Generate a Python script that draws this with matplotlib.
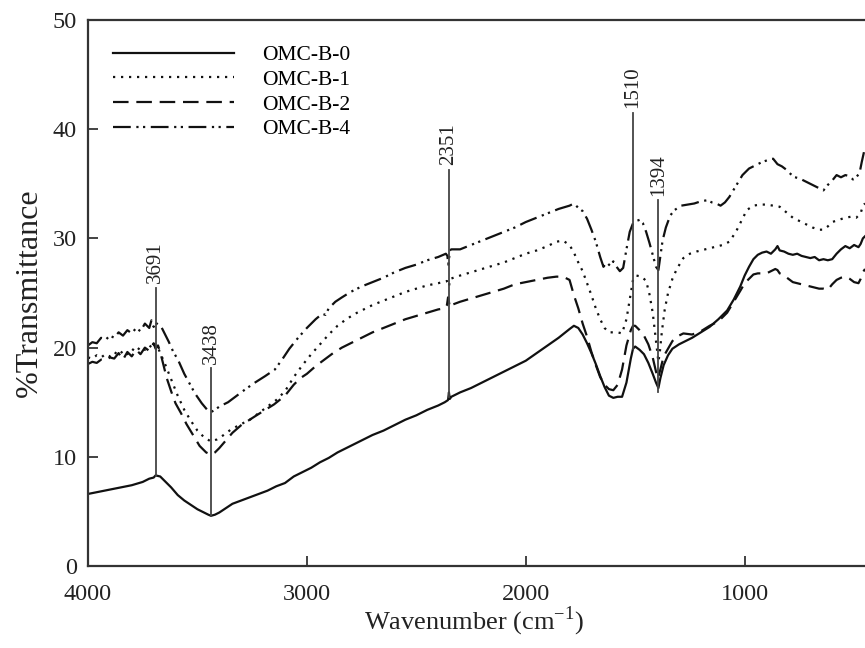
import matplotlib
matplotlib.use("Agg")
import matplotlib.pyplot as plt

# ---------------- data ----------------
wn_b0 = [4000, 3950, 3900, 3850, 3800, 3750, 3720, 3700, 3691, 3670, 3650, 3620, 3590, 3560, 3530, 3500,
         3470, 3450, 3438, 3420, 3400, 3370, 3340, 3300, 3260, 3220, 3180, 3140, 3100, 3060, 3020, 2980,
         2940, 2900, 2860, 2820, 2780, 2740, 2700, 2650, 2600, 2550, 2500, 2450, 2400, 2370, 2355, 2351,
         2347, 2340, 2300, 2250, 2200, 2150, 2100, 2050, 2000, 1950, 1900, 1850, 1800, 1780, 1760, 1740,
         1720, 1700, 1680, 1660, 1640, 1620, 1600, 1580, 1560, 1540, 1520, 1510, 1500, 1480, 1460, 1440,
         1420, 1405, 1394, 1385, 1370, 1350, 1330, 1300, 1270, 1240, 1200, 1160, 1120, 1080, 1050, 1020,
         1000, 980, 960, 940, 920, 900, 880, 860, 850, 840, 820, 800, 780, 760, 740, 720, 700, 680, 660,
         640, 620, 600, 580, 560, 540, 520, 500, 480, 470, 460, 450]
t_b0 = [6.6, 6.8, 7.0, 7.2, 7.4, 7.7, 8.0, 8.1, 8.3, 8.2, 7.8, 7.2, 6.5, 6.0, 5.6, 5.2,
        4.9, 4.7, 4.6, 4.7, 4.9, 5.3, 5.7, 6.0, 6.3, 6.6, 6.9, 7.3, 7.6, 8.2, 8.6, 9.0,
        9.5, 9.9, 10.4, 10.8, 11.2, 11.6, 12.0, 12.4, 12.9, 13.4, 13.8, 14.3, 14.7, 15.0, 15.2, 15.9,
        15.3, 15.5, 15.9, 16.3, 16.8, 17.3, 17.8, 18.3, 18.8, 19.5, 20.2, 20.9, 21.7, 22.0, 21.8, 21.2,
        20.4, 19.5, 18.5, 17.4, 16.4, 15.6, 15.4, 15.5, 15.5, 16.8, 19.0, 19.9, 20.1, 19.8, 19.4, 18.6,
        17.6, 16.8, 16.3, 17.2, 18.4, 19.3, 19.9, 20.3, 20.6, 20.9, 21.4, 21.9, 22.6, 23.4, 24.4, 25.6,
        26.6, 27.4, 28.1, 28.5, 28.7, 28.8, 28.6, 29.0, 29.3, 28.9, 28.8, 28.6, 28.5, 28.6, 28.4, 28.3, 28.2, 28.3, 28.0,
        28.1, 28.0, 28.1, 28.6, 29.0, 29.3, 29.1, 29.4, 29.2, 29.5, 30.0, 30.2]

wn_b1 = [4000, 3980, 3960, 3940, 3920, 3900, 3880, 3860, 3840, 3820, 3800, 3780, 3760, 3740, 3720, 3700,
         3691, 3680, 3670, 3650, 3630, 3610, 3590, 3560, 3530, 3500, 3470, 3438, 3410, 3380, 3347, 3300,
         3260, 3220, 3180, 3140, 3100, 3060, 3020, 2980, 2940, 2900, 2860, 2820, 2780, 2740, 2700, 2650,
         2600, 2550, 2500, 2450, 2400, 2360, 2351, 2345, 2300, 2250, 2200, 2150, 2100, 2050, 2000, 1950,
         1900, 1860, 1830, 1800, 1780, 1760, 1740, 1720, 1700, 1680, 1660, 1640, 1620, 1600, 1580, 1560,
         1540, 1525, 1510, 1495, 1470, 1450, 1435, 1420, 1410, 1400, 1394, 1388, 1378, 1365, 1350, 1330,
         1310, 1280, 1250, 1220, 1180, 1140, 1100, 1070, 1040, 1010, 990, 960, 930, 900, 870, 840, 810,
         780, 750, 720, 690, 660, 640, 620, 600, 570, 540, 510, 490, 470, 460, 450]
t_b1 = [19.1, 19.0, 19.3, 19.1, 19.4, 19.2, 19.6, 19.3, 19.7, 19.4, 19.9, 19.6, 20.1, 19.8, 20.2, 19.9,
        20.3, 20.0, 19.5, 18.6, 17.6, 16.6, 15.6, 14.3, 13.3, 12.4, 11.8, 11.4, 11.6, 12.0, 12.5, 13.0,
        13.4, 14.0, 14.6, 15.2, 16.0, 17.3, 18.4, 19.4, 20.3, 21.2, 22.0, 22.6, 23.1, 23.5, 23.9, 24.3,
        24.7, 25.1, 25.4, 25.7, 25.9, 26.1, 25.6, 26.3, 26.6, 26.9, 27.2, 27.5, 27.8, 28.2, 28.6, 28.9,
        29.3, 29.7, 29.8, 29.4, 28.7, 27.8, 27.0, 25.9, 24.8, 23.6, 22.6, 21.8, 21.4, 21.4, 21.4, 21.3,
        22.6, 24.4, 26.2, 26.6, 26.5, 26.1, 24.9, 23.2, 21.5, 19.8, 18.7, 19.5, 21.5, 23.5, 25.0, 26.3,
        27.2, 28.2, 28.6, 28.8, 29.0, 29.2, 29.4, 29.7, 30.6, 31.8, 32.6, 33.0, 33.1, 33.1, 33.0, 32.9, 32.4,
        31.9, 31.6, 31.3, 31.0, 30.8, 30.8, 31.1, 31.5, 31.7, 31.9, 32.0, 31.9, 32.3, 33.0, 33.2]

wn_b2 = [4000, 3980, 3960, 3940, 3920, 3900, 3880, 3860, 3840, 3820, 3800, 3780, 3760, 3740, 3720, 3700,
         3691, 3680, 3670, 3660, 3640, 3620, 3600, 3575, 3550, 3520, 3490, 3460, 3438, 3420, 3400, 3370,
         3340, 3300, 3269, 3230, 3190, 3150, 3100, 3060, 3030, 3000, 2960, 2920, 2880, 2840, 2800, 2750,
         2700, 2650, 2600, 2550, 2500, 2450, 2400, 2370, 2360, 2355, 2351, 2347, 2340, 2300, 2250, 2200,
         2150, 2100, 2050, 2000, 1950, 1900, 1860, 1830, 1800, 1780, 1760, 1740, 1720, 1700, 1680, 1660,
         1640, 1620, 1600, 1580, 1560, 1540, 1520, 1510, 1500, 1480, 1460, 1440, 1420, 1405, 1396, 1385,
         1370, 1350, 1330, 1310, 1280, 1240, 1200, 1160, 1120, 1080, 1050, 1020, 1000, 980, 960, 940, 900,
         880, 860, 850, 840, 820, 800, 780, 760, 740, 720, 700, 680, 660, 640, 620, 600, 580, 560, 540,
         520, 500, 480, 470, 460, 450]
t_b2 = [18.5, 18.7, 18.6, 18.9, 18.8, 19.1, 19.0, 19.5, 18.9, 19.6, 19.2, 19.8, 19.4, 20.0, 19.7, 20.4,
        19.9, 20.2, 19.6, 18.8, 17.2, 16.0, 14.9, 14.0, 13.0, 12.0, 11.0, 10.4, 10.2, 10.4, 10.8, 11.5,
        12.2, 12.9, 13.3, 13.8, 14.3, 14.8, 15.6, 16.6, 17.2, 17.6, 18.3, 18.9, 19.5, 20.0, 20.4, 20.9,
        21.4, 21.8, 22.2, 22.6, 22.9, 23.2, 23.5, 23.6, 23.9, 24.6, 24.2, 23.7, 23.9, 24.2, 24.5, 24.8,
        25.1, 25.4, 25.8, 26.0, 26.2, 26.4, 26.5, 26.5, 26.2, 24.8, 23.6, 22.2, 21.0, 19.6, 18.4, 17.3,
        16.6, 16.2, 16.1, 16.6, 18.0, 20.2, 21.6, 22.0, 22.0, 21.6, 21.1, 20.3, 19.1, 17.8, 17.2, 18.0,
        19.2, 19.9, 20.6, 21.0, 21.3, 21.2, 21.5, 22.0, 22.4, 23.2, 24.2, 25.2, 25.9, 26.3, 26.7, 26.8, 26.8,
        27.0, 27.2, 27.1, 26.8, 26.6, 26.3, 26.0, 25.9, 25.8, 25.7, 25.6, 25.5, 25.4, 25.4, 25.3, 25.8, 26.2, 26.4, 26.5,
        26.3, 26.0, 25.9, 26.3, 26.9, 27.2]

wn_b4 = [4000, 3980, 3960, 3940, 3920, 3900, 3880, 3860, 3840, 3820, 3800, 3780, 3760, 3740, 3720, 3710,
         3700, 3691, 3680, 3665, 3650, 3630, 3610, 3589, 3560, 3530, 3511, 3480, 3455, 3438, 3420, 3400,
         3360, 3320, 3280, 3237, 3190, 3146, 3110, 3080, 3040, 3000, 2960, 2930, 2915, 2900, 2870, 2840,
         2800, 2750, 2700, 2650, 2600, 2550, 2500, 2450, 2400, 2365, 2358, 2354, 2351, 2347, 2340, 2300,
         2250, 2200, 2150, 2100, 2050, 2000, 1950, 1900, 1850, 1800, 1780, 1770, 1760, 1740, 1720, 1700,
         1680, 1660, 1645, 1630, 1615, 1600, 1585, 1570, 1555, 1540, 1525, 1510, 1495, 1480, 1465, 1450,
         1435, 1420, 1405, 1394, 1385, 1375, 1360, 1340, 1320, 1290, 1260, 1230, 1200, 1170, 1150, 1130,
         1110, 1090, 1070, 1040, 1010, 980, 950, 920, 890, 870, 850, 830, 810, 790, 770, 750, 720, 690,
         660, 640, 620, 600, 580, 560, 540, 520, 505, 490, 475, 465, 455, 450]
t_b4 = [20.2, 20.5, 20.4, 20.9, 20.7, 21.1, 20.9, 21.4, 21.1, 21.6, 21.3, 21.8, 21.5, 22.2, 21.8, 22.5,
        21.9, 22.3, 22.1, 21.9, 21.3, 20.5, 19.6, 18.9, 17.6, 16.5, 15.8, 14.9, 14.3, 14.1, 14.3, 14.6,
        15.0, 15.6, 16.2, 16.8, 17.4, 18.0, 19.0, 19.9, 20.9, 21.8, 22.6, 23.1, 23.0, 23.6, 24.2, 24.6,
        25.1, 25.6, 26.0, 26.4, 26.9, 27.3, 27.6, 28.0, 28.3, 28.6, 28.4, 27.6, 28.0, 28.9, 29.0, 29.0,
        29.4, 29.8, 30.2, 30.6, 31.0, 31.5, 31.9, 32.3, 32.7, 33.0, 33.2, 33.0, 32.8, 32.5, 31.8, 30.8,
        29.7, 28.3, 27.4, 27.8, 27.5, 27.9, 27.4, 27.0, 27.3, 29.0, 30.6, 31.4, 31.6, 31.7, 31.4, 30.6,
        29.6, 28.5, 27.4, 27.1, 28.4, 29.8, 31.0, 32.1, 32.6, 33.0, 33.1, 33.2, 33.4, 33.5, 33.3, 33.2,
        33.0, 33.3, 33.8, 34.8, 35.8, 36.4, 36.7, 37.0, 37.2, 37.3, 36.8, 36.6, 36.3, 35.9, 35.6, 35.5, 35.2, 34.9,
        34.6, 34.4, 34.9, 35.3, 35.8, 35.6, 35.8, 35.7, 35.4, 35.6, 36.0, 37.0, 37.9, 38.0]

labels = ["OMC-B-0", "OMC-B-1", "OMC-B-2", "OMC-B-4"]

# peak markers: position, bottom, top
peak_pos = [3691, 3438, 2351, 1510, 1394]
peak_bottom = [8.2, 4.6, 15.5, 19.9, 15.9]
peak_top = [25.5, 18.1, 36.3, 41.5, 33.5]
peak_text = ["3691", "3438", "2351", "1510", "1394"]

x_ticks = [4000, 3000, 2000, 1000]
y_ticks = [0, 10, 20, 30, 40, 50]

# ---------------- plotting ----------------
plt.rcParams['font.family'] = ['Liberation Serif', 'DejaVu Serif']
plt.rcParams['mathtext.fontset'] = 'custom'
plt.rcParams['mathtext.rm'] = 'Liberation Serif'

fig = plt.figure(figsize=(8.65, 6.48), dpi=100)
ax = fig.add_axes([0.1017, 0.1265, 0.911, 0.8426])

lw = 1.6
col = '#111111'
ax.plot(wn_b0, t_b0, color=col, lw=lw, linestyle='-', label=labels[0])
ax.plot(wn_b1, t_b1, color=col, lw=lw, linestyle=(0, (1, 2.6)), label=labels[1])
ax.plot(wn_b2, t_b2, color=col, lw=lw, linestyle=(0, (7, 3.5)), label=labels[2])
ax.plot(wn_b4, t_b4, color=col, lw=lw, linestyle=(0, (8, 2.5, 1, 2, 1, 2.5)), label=labels[3])

for p, b, t, s in zip(peak_pos, peak_bottom, peak_top, peak_text):
    ax.plot([p, p], [b, t], color='#444444', lw=1.3)
    ax.text(p, t + 0.4, s, rotation=90, ha='center', va='bottom', fontsize=15, color='#222222')

ax.set_xlim(4000, 400)
ax.set_ylim(0, 50)
ax.set_xticks(x_ticks)
ax.set_yticks(y_ticks)
ax.tick_params(direction='in', length=7, width=1.2, labelsize=17.5, colors='#222222')
ax.tick_params(axis='x', pad=13)
ax.tick_params(axis='y', pad=8)
for sp in ax.spines.values():
    sp.set_linewidth(1.6)
    sp.set_color('#333333')

ax.set_xlabel("Wavenumber (cm$^{-1}$)", fontsize=19, color='#222222', labelpad=0)
ax.xaxis.set_label_coords(0.49, -0.07)
ax.set_ylabel("%Transmittance", fontsize=23, color='#222222', labelpad=6)

leg = ax.legend(loc='upper left', bbox_to_anchor=(113 / 865, 1 - 45 / 648),
                bbox_transform=fig.transFigure, frameon=False, fontsize=15.5,
                handlelength=5.6, handletextpad=1.35, labelspacing=0.22, borderpad=0,
                borderaxespad=0)

fig.savefig("out.png", dpi=100)
